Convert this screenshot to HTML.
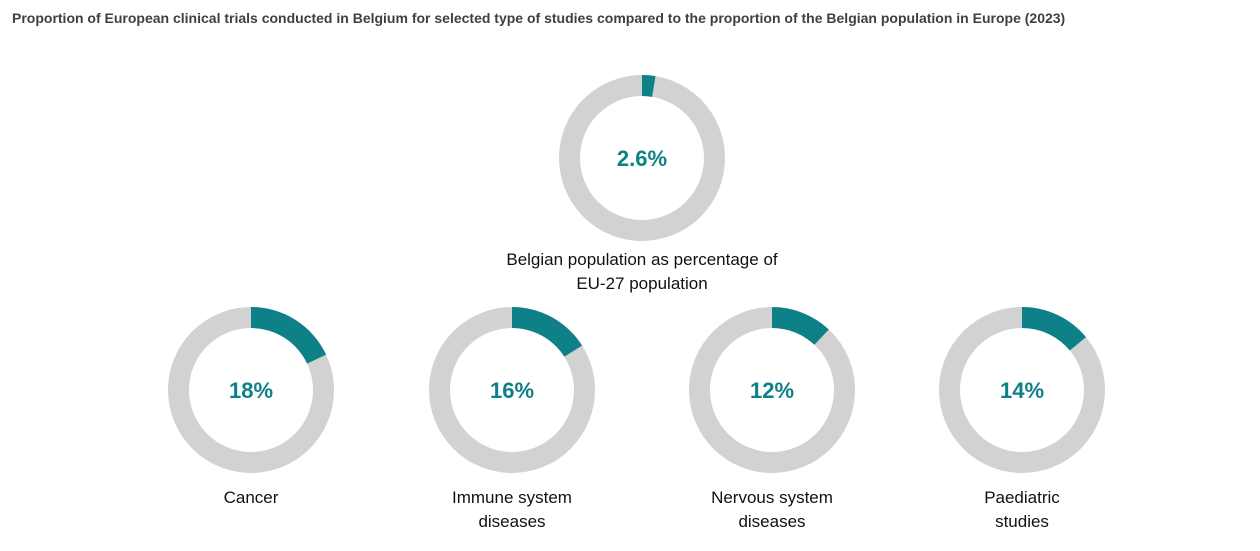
<!DOCTYPE html>
<html><head><meta charset="utf-8"><style>
body{margin:0;background:#fff;font-family:"Liberation Sans",sans-serif;}
#wrap{position:relative;width:1260px;height:551px;overflow:hidden;}
.title{position:absolute;left:12px;top:7px;width:1180px;font-size:14px;font-weight:bold;color:#404040;line-height:22px;}
</style></head><body>
<div id="wrap">
<div class="title">Proportion of European clinical trials conducted in Belgium for selected type of studies compared to the proportion of the Belgian population in Europe (2023)</div>
<svg id="svg" width="1260" height="551" style="position:absolute;left:0;top:0"></svg>
</div>
<script>
const values=[2.6,18,16,12,14];
const valueLabels=["2.6%","18%","16%","12%","14%"];
const categoryLines=[["Belgian population as percentage of","EU-27 population"],["Cancer"],["Immune system","diseases"],["Nervous system","diseases"],["Paediatric","studies"]];
const slugs=["belgian-population","cancer","immune-system-diseases","nervous-system-diseases","paediatric-studies"];
const centers=[[642,158],[251,390],[512,390],[772,390],[1022,390]];
const labelOffsets=[24,30,30,30,30];
const R=83,r=62;
const ns="http://www.w3.org/2000/svg";
const svg=document.getElementById('svg');
function angle(v){return v/100*2*Math.PI;}
function pt(cx,cy,rad,a){return [cx+rad*Math.sin(a),cy-rad*Math.cos(a)];}
function arcPath(cx,cy,a0,a1){
  const large=(a1-a0)>Math.PI?1:0;
  const p1=pt(cx,cy,R,a0),p2=pt(cx,cy,R,a1),p3=pt(cx,cy,r,a1),p4=pt(cx,cy,r,a0);
  return `M${p1[0]},${p1[1]}A${R},${R} 0 ${large} 1 ${p2[0]},${p2[1]}L${p3[0]},${p3[1]}A${r},${r} 0 ${large} 0 ${p4[0]},${p4[1]}Z`;
}
values.forEach((v,i)=>{
  const [cx,cy]=centers[i];
  const g=document.createElementNS(ns,'g');
  
  
  const bg=document.createElementNS(ns,'circle');
  bg.setAttribute('cx',cx);bg.setAttribute('cy',cy);bg.setAttribute('r',(R+r)/2);
  bg.setAttribute('fill','none');bg.setAttribute('stroke','#d2d2d2');bg.setAttribute('stroke-width',R-r);
  
  
  g.appendChild(bg);
  const seg=document.createElementNS(ns,'path');
  seg.setAttribute('d',arcPath(cx,cy,0,angle(v)));
  seg.setAttribute('fill','#0e8088');
  
  
  g.appendChild(seg);
  const t=document.createElementNS(ns,'text');
  t.setAttribute('x',cx);t.setAttribute('y',cy+8);t.setAttribute('text-anchor','middle');
  t.setAttribute('font-size','22');t.setAttribute('font-weight','bold');t.setAttribute('fill','#0e8088');
  t.setAttribute('font-family','Liberation Sans, sans-serif');
  t.textContent=valueLabels[i];
  
  
  g.appendChild(t);
  categoryLines[i].forEach((line,j)=>{
    const l=document.createElementNS(ns,'text');
    l.setAttribute('x',cx);l.setAttribute('y',cy+R+labelOffsets[i]+j*24);l.setAttribute('text-anchor','middle');
    l.setAttribute('font-size','17');l.setAttribute('fill','#111');
    l.setAttribute('font-family','Liberation Sans, sans-serif');
    l.textContent=line;
    
    
    g.appendChild(l);
  });
  svg.appendChild(g);
});
</script>
</body></html>
